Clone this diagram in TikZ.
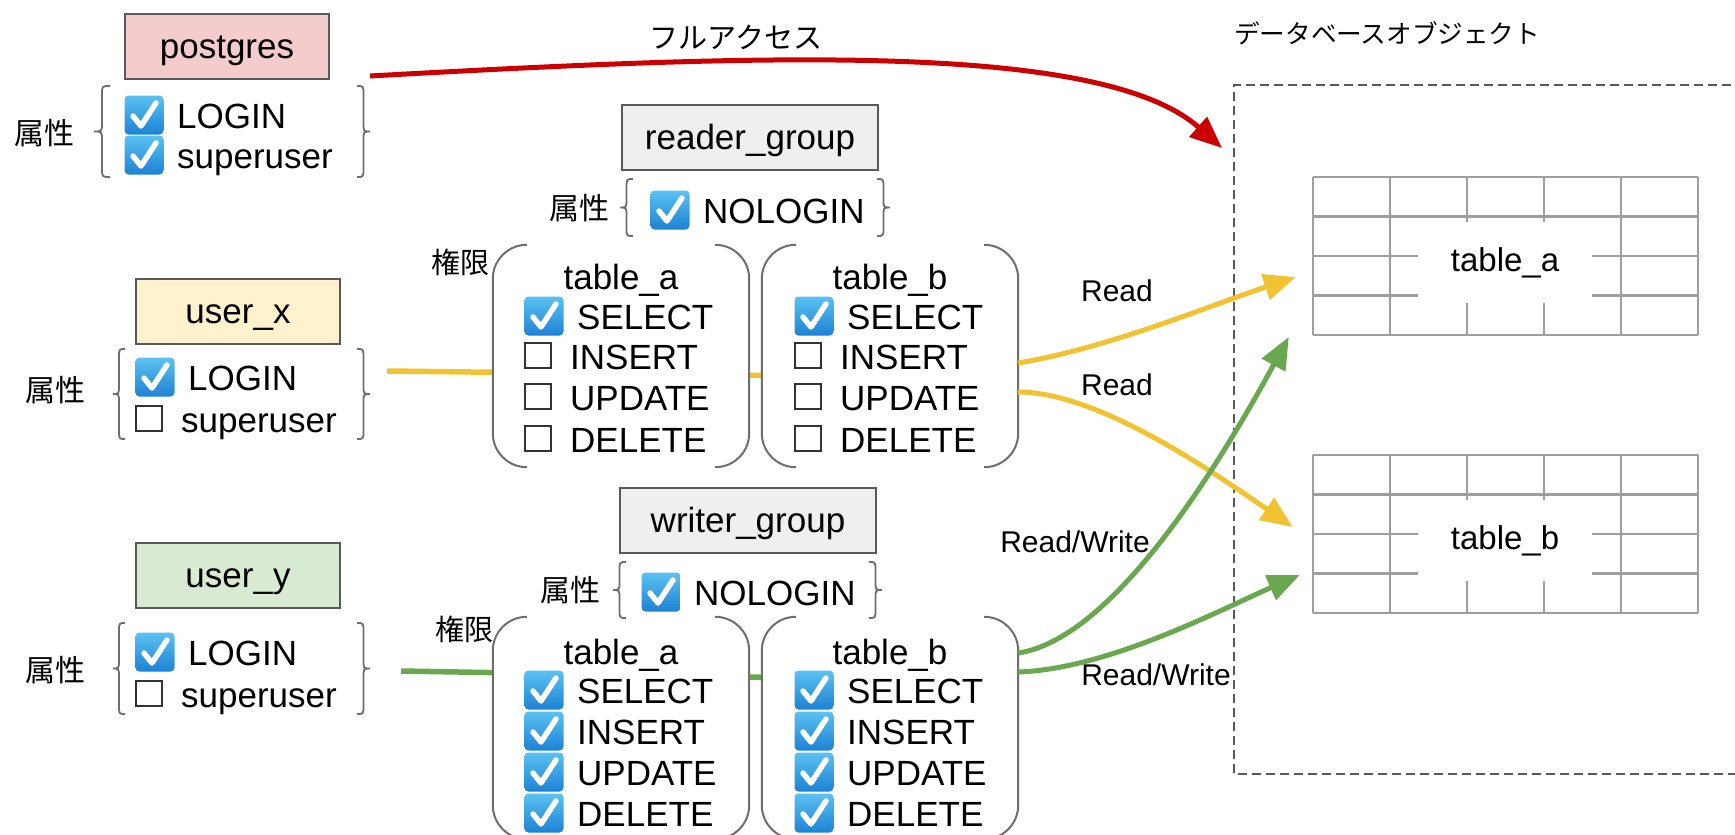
\documentclass[tikz,border=0pt]{standalone}
\usepackage{fontspec}
\setmainfont{Liberation Sans}
\newfontfamily\jp{Noto Sans CJK JP}
\usetikzlibrary{arrows.meta,calc}
\definecolor{pgfill}{HTML}{F4CCCC}
\definecolor{uxfill}{HTML}{FFF2CC}
\definecolor{uyfill}{HTML}{D9EAD3}
\definecolor{grfill}{HTML}{EFEFEF}
\definecolor{bordc}{HTML}{595959}
\definecolor{ylw}{HTML}{F1C232}
\definecolor{grn}{HTML}{6AA84F}
\definecolor{rd}{HTML}{CC0000}
\definecolor{ckTop}{HTML}{5CC2F2}
\definecolor{ckBot}{HTML}{1C82D4}
\definecolor{gridc}{HTML}{9E9E9E}
\definecolor{brcc}{HTML}{6E6E6E}
\pgfdeclarelayer{bg}
\pgfsetlayers{bg,main}
\newcommand\fsz[1]{\fontsize{#1pt}{#1pt}\selectfont}
\tikzset{
 lbl/.style={inner sep=0pt, font=\fsz{35}},
 jlbl/.style={inner sep=0pt, font=\jp\fsz{30}},
 rlbl/.style={inner sep=0pt, font=\fsz{30}},
 ubox/.style={draw=bordc, line width=2pt, minimum width=204pt, minimum height=65pt, inner sep=0pt, text height=24pt, text depth=0pt, font=\fsz{35}},
 gbox/.style={ubox, fill=grfill, minimum width=256pt},
 brk/.style={draw=brcc, line width=2pt, rounded corners=34pt},
 brc/.style={draw=brcc, line width=1.8pt},
 tnode/.style={fill=white, minimum width=256pt, minimum height=222pt, inner sep=0pt},
 conn/.style={line width=5.5pt},
 arr/.style={line width=5pt, -{Triangle[length=32pt,width=26pt]}},
 grd/.style={draw=gridc, line width=2.5pt},
 dbox/.style={draw=bordc, line width=2pt, dash pattern=on 9pt off 5pt},
 ubx/.style={draw=black!80, line width=1.6pt},
 chk/.pic={
   \shade[top color=ckTop, bottom color=ckBot, rounded corners=4pt] (-19.5,-19.5) rectangle (19.5,19.5);
   \draw[white, line width=5.5pt, line cap=round, line join=round] (-11,1) -- (-3,11) -- (12,-12);
 },
}
% left brace: xl, xr, ytop, ybottom
\newcommand\mybrL[4]{\draw[brc] (#2,#3) .. controls ({(#1+#2)/2},#3) .. ({(#1+#2)/2},{#3+9}) -- ({(#1+#2)/2},{(#3+#4)/2-9}) .. controls ({(#1+#2)/2},{(#3+#4)/2}) .. (#1,{(#3+#4)/2}) .. controls ({(#1+#2)/2},{(#3+#4)/2}) .. ({(#1+#2)/2},{(#3+#4)/2+9}) -- ({(#1+#2)/2},{#4-9}) .. controls ({(#1+#2)/2},#4) .. (#2,#4);}
% right brace
\newcommand\mybrR[4]{\draw[brc] (#1,#3) .. controls ({(#1+#2)/2},#3) .. ({(#1+#2)/2},{#3+9}) -- ({(#1+#2)/2},{(#3+#4)/2-9}) .. controls ({(#1+#2)/2},{(#3+#4)/2}) .. (#2,{(#3+#4)/2}) .. controls ({(#1+#2)/2},{(#3+#4)/2}) .. ({(#1+#2)/2},{(#3+#4)/2+9}) -- ({(#1+#2)/2},{#4-9}) .. controls ({(#1+#2)/2},#4) .. (#1,#4);}
% checked row: name, left x, baseline, text
\newcommand\crow[4]{\pic at ({#2+20},{#3-13}) {chk}; \node[lbl, anchor=base west] (#1) at ({#2+53},#3) {#4};}
% unchecked row
\newcommand\urow[4]{\draw[ubx] ({#2+1},{#3-26}) rectangle ({#2+27},{#3-1}); \node[lbl, anchor=base west] (#1) at ({#2+46},#3) {#4};}
% bracket box
\newcommand\tbox[3]{\node[tnode] (#1) at (#2,#3) {};
 \draw[brk] ([xshift=34pt]#1.north west) -- (#1.north west) -- (#1.south west) -- ([xshift=34pt]#1.south west);
 \draw[brk] ([xshift=-34pt]#1.north east) -- (#1.north east) -- (#1.south east) -- ([xshift=-34pt]#1.south east);}
% database table grid
\newcommand\dbgrid[3]{\node[minimum width=385pt, minimum height=158pt, inner sep=0pt] (#1) at (1505.5,{#2+79}) {};
 \foreach \i in {0,...,5} \draw[grd] ({1313+77*\i},#2) -- ({1313+77*\i},{#2+158});
 \foreach \j in {0,...,4} \draw[grd] (1313,{#2+39.5*\j}) -- (1698,{#2+39.5*\j});
 \node[fill=white, minimum width=174pt, minimum height=81pt, inner sep=0pt, font=\fsz{33}] (#1L) at (1505,{#2+85.5}) {#3};}
\begin{document}
\begin{tikzpicture}[x=1pt,y=-1pt]
\useasboundingbox (0,0) rectangle (1735,835);
\clip (0,0) rectangle (1735,835);
% titles
\node[jlbl, font=\jp\fsz{29}] (fa) at (736,37) {フルアクセス};
\node[jlbl, font=\jp\fsz{25.6}, anchor=west] (dbt) at (1234,33) {データベースオブジェクト};
% permission bracket boxes (drawn first)
\tbox{rta}{621}{356}
\tbox{rtb}{890}{356}
\tbox{wta}{621}{728}
\tbox{wtb}{890}{728}
% postgres
\node[ubox, fill=pgfill] (pg) at (227,46.5) {postgres};
\node[jlbl] (pgattr) at (44,133) {属性};
\mybrL{94}{110}{86}{177}
\mybrR{357}{370}{86}{177}
\crow{pgl}{124}{128}{LOGIN}
\crow{pgs}{124}{168}{superuser}
% user_x
\node[ubox, fill=uxfill] (ux) at (238,311) {user\_x};
\node[jlbl] (uxattr) at (55,390) {属性};
\mybrL{113}{125}{349}{439}
\mybrR{357}{370}{349}{439}
\crow{uxl}{135}{390}{LOGIN}
\urow{uxs}{135}{432}{superuser}
% user_y
\node[ubox, fill=uyfill] (uy) at (238,575) {user\_y};
\node[jlbl] (uyattr) at (55,670) {属性};
\mybrL{113}{125}{623}{714}
\mybrR{357}{370}{623}{714}
\crow{uyl}{135}{665}{LOGIN}
\urow{uys}{135}{707}{superuser}
% reader group
\node[gbox] (rg) at (750,137) {reader\_group};
\node[jlbl] (rgattr) at (579,208) {属性};
\mybrL{620}{633}{179}{236}
\mybrR{877}{890}{179}{236}
\crow{rgn}{650}{223}{NOLOGIN}
\node[jlbl, font=\jp\fsz{29}] (rperm) at (460,262) {権限};
\node[lbl, anchor=base] (rtaT) at (621,289) {table\_a};
\crow{rta1}{524}{329}{SELECT}
\urow{rta2}{524}{369}{INSERT}
\urow{rta3}{524}{410}{UPDATE}
\urow{rta4}{524}{452}{DELETE}
\node[lbl, anchor=base] (rtbT) at (890,289) {table\_b};
\crow{rtb1}{794}{329}{SELECT}
\urow{rtb2}{794}{369}{INSERT}
\urow{rtb3}{794}{410}{UPDATE}
\urow{rtb4}{794}{452}{DELETE}
% writer group
\node[gbox] (wg) at (748,520) {writer\_group};
\node[jlbl] (wgattr) at (570,590) {属性};
\mybrL{613}{626}{562}{618}
\mybrR{869}{882}{562}{618}
\crow{wgn}{641}{605}{NOLOGIN}
\node[jlbl, font=\jp\fsz{29}] (wperm) at (464,629) {権限};
\node[lbl, anchor=base] (wtaT) at (621,664) {table\_a};
\crow{wta1}{524}{703}{SELECT}
\crow{wta2}{524}{744}{INSERT}
\crow{wta3}{524}{785}{UPDATE}
\crow{wta4}{524}{826}{DELETE}
\node[lbl, anchor=base] (wtbT) at (890,664) {table\_b};
\crow{wtb1}{794}{703}{SELECT}
\crow{wtb2}{794}{744}{INSERT}
\crow{wtb3}{794}{785}{UPDATE}
\crow{wtb4}{794}{826}{DELETE}
% connectors from users to groups (behind the boxes)
\begin{pgfonlayer}{bg}
\coordinate (uxo) at (387,371);
\coordinate (uyo) at (401,671);
\draw[conn, ylw] (uxo) -- ([yshift=-21pt]rtb.center);
\draw[conn, grn] (uyo) -- ([yshift=48.5pt]wtb.center);
\end{pgfonlayer}
% database objects
\draw[dbox] (1745,85) -- (1234,85) -- (1234,774) -- (1745,774);
\dbgrid{ta}{177}{table\_a}
\dbgrid{tb}{455}{table\_b}
% arrows
\coordinate (pgo) at (370,76);
\coordinate (rtip) at (1222,148);
\draw[arr, rd] (pgo) .. controls +(380,-21) and +(-122,-108) .. (rtip);
\draw[arr, ylw] ([yshift=-7pt]rtb.east) .. controls +(90,-15) and +(-90,30) .. ([shift={(-17pt,-21pt)}]ta.west);
\draw[arr, ylw] ([yshift=-36pt]rtb.east) .. controls +(80,0) and +(-80,-55) .. ([shift={(-20pt,7pt)}]tb.west);
\draw[arr, grn] ([yshift=75pt]wtb.east) .. controls +(100,-15) and +(-60,110) .. ([shift={(-24pt,-81pt)}]ta.west);
\draw[arr, grn] ([yshift=56pt]wtb.east) .. controls +(90,-3) and +(-80,35) .. ([shift={(-13pt,-41pt)}]tb.west);
% arrow labels
\node[rlbl] (r1) at (1117,291) {Read};
\node[rlbl] (r2) at (1117,385) {Read};
\node[rlbl] (rw1) at (1075,542) {Read/Write};
\node[rlbl] (rw2) at (1156,675) {Read/Write};
\end{tikzpicture}
\end{document}
